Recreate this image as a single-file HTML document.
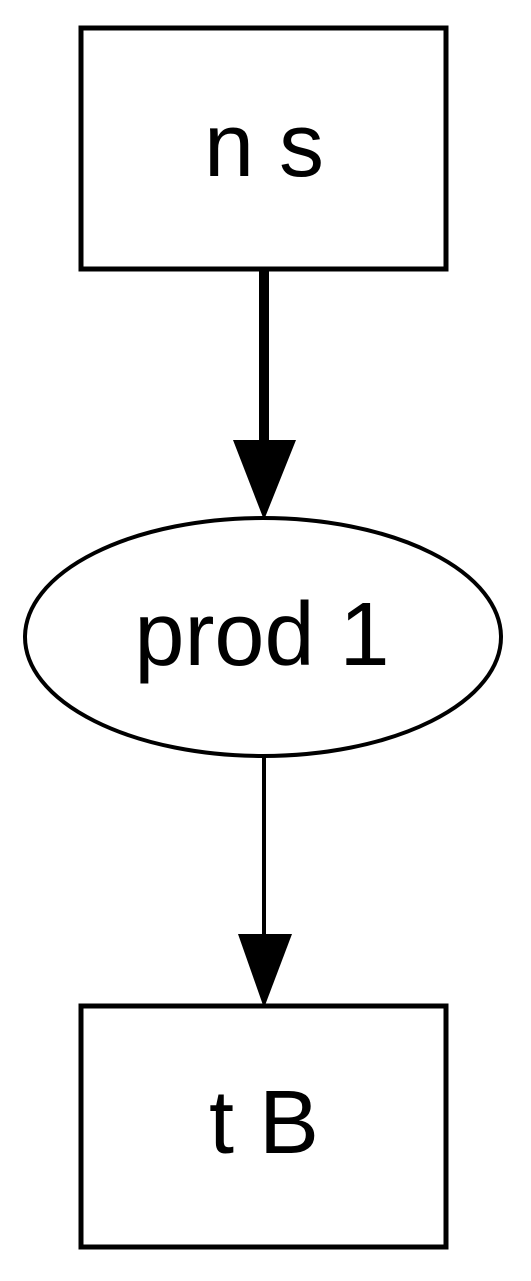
<!DOCTYPE html>
<html><head><style>body{margin:0;background:#fff}</style></head><body>
<svg width="531" height="1276" viewBox="0 0 531 1276" xmlns="http://www.w3.org/2000/svg">
<rect width="531" height="1276" fill="#fff"/>
<g font-family="Liberation Sans, sans-serif" font-size="90px" text-anchor="middle" fill="#000">
<rect x="81" y="28" width="365" height="241" fill="none" stroke="#000" stroke-width="5"/>
<text x="264" y="176">n s</text>
<line x1="264" y1="269" x2="264" y2="442" stroke="#000" stroke-width="10"/>
<polygon points="233,440 296,440 264,520" fill="#000"/>
<ellipse cx="263" cy="637" rx="238" ry="119" fill="none" stroke="#000" stroke-width="4"/>
<text x="262" y="665">prod 1</text>
<line x1="264" y1="757" x2="264" y2="936" stroke="#000" stroke-width="4"/>
<polygon points="238,934 292,934 264,1008" fill="#000"/>
<rect x="81" y="1006" width="365" height="241" fill="none" stroke="#000" stroke-width="5"/>
<text x="264" y="1153">t B</text>
</g>
</svg>
</body></html>
